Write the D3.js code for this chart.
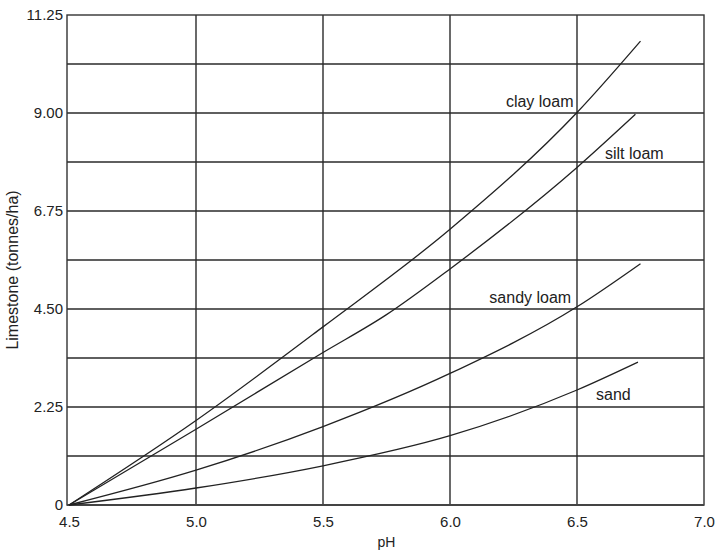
<!DOCTYPE html>
<html>
<head>
<meta charset="utf-8">
<script src="https://cdn.jsdelivr.net/npm/d3@7"></script>
<style>
    body { margin: 0; background: #fff; }
    text { font-family: "Liberation Sans", Arial, sans-serif; fill: #222; }
</style>
</head>
<body>
<div id="chart"></div>
<script>
// pH values where each curve was read
var clayPH = [4.5, 5.0, 5.5, 6.0, 6.5, 6.75];
var clayLoam = [0, 1.94, 4.09, 6.33, 9.01, 10.65];

var siltPH = [4.5, 5.0, 5.5, 5.75, 6.0, 6.5, 6.73];
var siltLoam = [0, 1.74, 3.50, 4.37, 5.42, 7.75, 8.97];

var sandyPH = [4.5, 5.0, 5.5, 6.0, 6.5, 6.75];
var sandyLoam = [0, 0.80, 1.80, 3.02, 4.55, 5.54];

var sandPH = [4.5, 5.0, 5.5, 6.0, 6.5, 6.74];
var sand = [0, 0.39, 0.90, 1.59, 2.64, 3.28];

var xTicks = [4.5, 5.0, 5.5, 6.0, 6.5, 7.0];
var yTicks = [0, 2.25, 4.5, 6.75, 9.0, 11.25];
var yGrid = [1.125, 2.25, 3.375, 4.5, 5.625, 6.75, 7.875, 9.0, 10.125];
var xGrid = [5.0, 5.5, 6.0, 6.5];

var margin = {top: 15, right: 13, bottom: 46, left: 69};
var width = 717 - margin.left - margin.right;
var height = 551 - margin.top - margin.bottom;

var svg = d3.select("#chart").append("svg")
    .attr("width", 717)
    .attr("height", 551)
    .append("g")
    .attr("transform", "translate(" + margin.left + "," + margin.top + ")");

var x = d3.scaleLinear().domain([4.5, 7.0]).range([0, width]);
var y = d3.scaleLinear().domain([0, 11.25]).range([height, 0]);

// grid lines
svg.selectAll(".hgrid").data(yGrid).enter().append("line")
    .attr("x1", -2).attr("x2", width)
    .attr("y1", function (d) { return y(d); })
    .attr("y2", function (d) { return y(d); })
    .attr("stroke", "#2a2a2a").attr("stroke-width", 1.4);

svg.selectAll(".vgrid").data(xGrid).enter().append("line")
    .attr("y1", 0).attr("y2", height)
    .attr("x1", function (d) { return x(d); })
    .attr("x2", function (d) { return x(d); })
    .attr("stroke", "#2a2a2a").attr("stroke-width", 1.4);

// frame (left edge sits a little left of 4.5 like the original)
svg.append("rect")
    .attr("x", -2)
    .attr("width", width + 2).attr("height", height)
    .attr("fill", "none").attr("stroke", "#333").attr("stroke-width", 1.4);
svg.append("line")
    .attr("x1", -2).attr("x2", width).attr("y1", height).attr("y2", height)
    .attr("stroke", "#444").attr("stroke-width", 2.2);

// axes (labels only, lines drawn above)
var xAxis = svg.append("g")
    .attr("transform", "translate(0," + height + ")")
    .call(d3.axisBottom(x).tickValues(xTicks).tickFormat(d3.format(".1f")).tickSize(0).tickPadding(11));
xAxis.select(".domain").remove();

var yAxis = svg.append("g")
    .call(d3.axisLeft(y).tickValues(yTicks)
        .tickFormat(function (d) { return d === 0 ? "0" : d3.format(".2f")(d); })
        .tickSize(0).tickPadding(6));
yAxis.select(".domain").remove();

svg.selectAll(".tick text")
    .style("font-family", "'Liberation Sans', Arial, sans-serif")
    .style("font-size", "15px")
    .attr("fill", "#222");

// curves
var line = d3.line()
    .x(function (d) { return x(d[0]); })
    .y(function (d) { return y(d[1]); })
    .curve(d3.curveMonotoneX);

var series = [
    {name: "clay loam", ph: clayPH, v: clayLoam, lx: 6.22, ly: 9.14},
    {name: "silt loam", ph: siltPH, v: siltLoam, lx: 6.61, ly: 7.94},
    {name: "sandy loam", ph: sandyPH, v: sandyLoam, lx: 6.155, ly: 4.64},
    {name: "sand", ph: sandPH, v: sand, lx: 6.575, ly: 2.41}
];

series.forEach(function (s) {
    var pts = s.ph.map(function (p, i) { return [p, s.v[i]]; });
    svg.append("path")
        .datum(pts)
        .attr("fill", "none")
        .attr("stroke", "#222")
        .attr("stroke-width", 1.3)
        .attr("d", line);
    svg.append("text")
        .attr("x", x(s.lx))
        .attr("y", y(s.ly))
        .style("font-size", "16px")
        .text(s.name);
});

// axis titles
svg.append("text")
    .attr("x", x(5.75))
    .attr("y", height + 42)
    .attr("text-anchor", "middle")
    .style("font-size", "14px")
    .text("pH");

svg.append("text")
    .attr("transform", "translate(" + (-51) + "," + (height / 2 + 10) + ")rotate(-90)")
    .attr("text-anchor", "middle")
    .style("font-size", "16px")
    .text("Limestone (tonnes/ha)");
</script>
</body>
</html>
